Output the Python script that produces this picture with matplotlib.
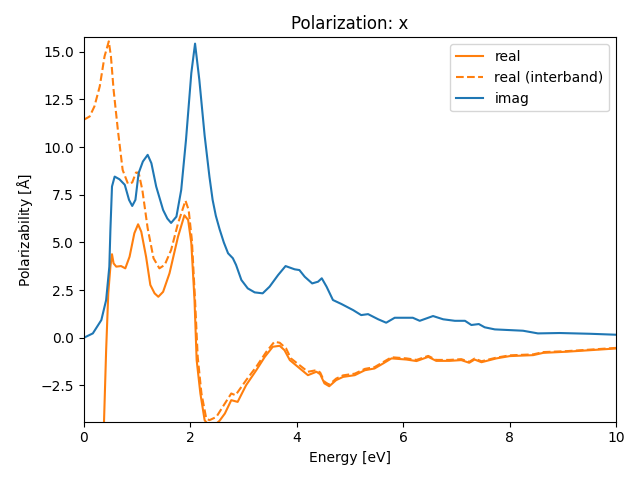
import matplotlib
matplotlib.use("Agg")
import matplotlib.pyplot as plt

# imaginary part (blue)
e_imag = [0.0, 0.17, 0.33, 0.42, 0.48, 0.50, 0.53, 0.58, 0.67, 0.77, 0.85, 0.91, 0.97,
          1.03, 1.11, 1.20, 1.27, 1.36, 1.49, 1.57, 1.64, 1.74, 1.83, 1.92, 2.02, 2.09,
          2.17, 2.27, 2.36, 2.42, 2.48, 2.55, 2.63, 2.71, 2.80, 2.86, 2.96, 3.08, 3.21, 3.36,
          3.49, 3.65, 3.79, 3.96, 4.05, 4.15, 4.29, 4.40, 4.47, 4.56, 4.68, 4.84,
          5.06, 5.21, 5.34, 5.53, 5.68, 5.84, 6.18, 6.31, 6.56, 6.75, 6.97, 7.16,
          7.28, 7.42, 7.53, 7.72, 8.25, 8.53, 8.94, 9.51, 10.0]
imag = [0.0, 0.23, 0.93, 1.98, 3.73, 5.65, 7.93, 8.45, 8.31, 8.02, 7.23, 6.91, 7.23,
        8.63, 9.24, 9.59, 9.15, 7.93, 6.70, 6.25, 6.02, 6.35, 7.75, 10.38, 13.88, 15.42,
        13.53, 10.6, 8.45, 7.23, 6.40, 5.70, 5.00, 4.43, 4.17, 3.82, 3.03, 2.59, 2.38, 2.33,
        2.68, 3.29, 3.76, 3.59, 3.55, 3.20, 2.85, 2.94, 3.12, 2.68, 1.98, 1.77,
        1.45, 1.19, 1.24, 0.97, 0.79, 1.05, 1.05, 0.89, 1.14, 0.97, 0.89, 0.89,
        0.67, 0.72, 0.55, 0.44, 0.37, 0.23, 0.25, 0.21, 0.16]

# real part (solid orange)
e_real = [0.2, 0.38, 0.42, 0.46, 0.50, 0.53, 0.56, 0.61, 0.70, 0.78, 0.86, 0.95,
          1.02, 1.08, 1.17, 1.25, 1.33, 1.40, 1.49, 1.61, 1.77, 1.89, 1.96, 2.02,
          2.08, 2.12, 2.19, 2.27, 2.35, 2.45, 2.55, 2.65, 2.77, 2.89, 3.05, 3.24,
          3.40, 3.55, 3.68, 3.77, 3.87, 4.02, 4.21, 4.37, 4.44, 4.52, 4.61, 4.74,
          4.87, 5.09, 5.28, 5.46, 5.62, 5.78, 6.06, 6.25, 6.47, 6.62, 6.87, 7.09,
          7.24, 7.34, 7.47, 7.75, 8.00, 8.44, 8.63, 9.07, 9.51, 10.0]
real = [-30.0, -4.41, -0.65, 2.33, 3.73, 4.38, 3.90, 3.73, 3.76, 3.64, 4.25, 5.48,
        5.95, 5.56, 4.25, 2.77, 2.33, 2.15, 2.41, 3.38, 5.30, 6.42, 6.18, 4.96,
        1.98, -1.17, -2.92, -4.32, -4.6, -4.6, -4.35, -3.97, -3.27, -3.36, -2.48, -1.70,
        -1.00, -0.47, -0.42, -0.65, -1.17, -1.52, -1.96, -1.78, -1.91, -2.39, -2.54, -2.22,
        -2.05, -1.96, -1.70, -1.61, -1.35, -1.08, -1.14, -1.22, -1.00, -1.21, -1.21, -1.17,
        -1.31, -1.14, -1.28, -1.08, -0.96, -0.91, -0.79, -0.73, -0.65, -0.56]

# real part, interband only (dashed orange)
e_inter = [0.0, 0.11, 0.20, 0.30, 0.39, 0.47, 0.51, 0.56, 0.64, 0.73, 0.83, 0.91,
           0.98, 1.03, 1.10, 1.20, 1.31, 1.42, 1.52, 1.64, 1.77, 1.91, 1.97, 2.03,
           2.09, 2.14, 2.21, 2.30, 2.36, 2.49, 2.61, 2.77, 2.85, 3.05, 3.24, 3.43,
           3.58, 3.68, 3.80, 3.89, 4.05, 4.21, 4.37, 4.44, 4.52, 4.61, 4.74, 4.87,
           5.09, 5.28, 5.46, 5.62, 5.78, 6.06, 6.25, 6.47, 6.62, 6.87, 7.09, 7.24,
           7.34, 7.47, 7.75, 8.00, 8.44, 8.63, 9.07, 9.51, 10.0]
inter = [11.43, 11.6, 12.13, 13.18, 14.75, 15.54, 14.75, 13.0, 10.9, 8.80, 8.07, 8.14,
         8.66, 8.66, 7.75, 5.74, 4.17, 3.64, 3.82, 4.60, 6.0, 7.19, 6.70, 5.13,
         1.98, -1.0, -2.92, -4.23, -4.32, -4.15, -3.62, -2.92, -3.01, -2.22, -1.52, -0.73,
         -0.21, -0.26, -0.56, -1.08, -1.43, -1.78, -1.70, -1.82, -2.30, -2.46, -2.14, -1.97,
         -1.88, -1.63, -1.54, -1.28, -1.02, -1.08, -1.16, -0.95, -1.16, -1.16, -1.12, -1.26,
         -1.09, -1.23, -1.04, -0.92, -0.87, -0.75, -0.70, -0.62, -0.53]

fig, ax = plt.subplots(figsize=(6.4, 4.8), dpi=100)
ax.plot(e_real, real, color="C1", label="real")
ax.plot(e_inter, inter, color="C1", linestyle="--", label="real (interband)")
ax.plot(e_imag, imag, color="C0", label="imag")
ax.set_xlim(0, 10)
ax.set_ylim(-4.4, 15.75)
ax.set_xlabel("Energy [eV]")
ax.set_ylabel(r"Polarizability [$\mathrm{\AA}$]")
ax.set_title("Polarization: x")
ax.legend(loc="upper right")
fig.tight_layout()
fig.savefig("out.png")
